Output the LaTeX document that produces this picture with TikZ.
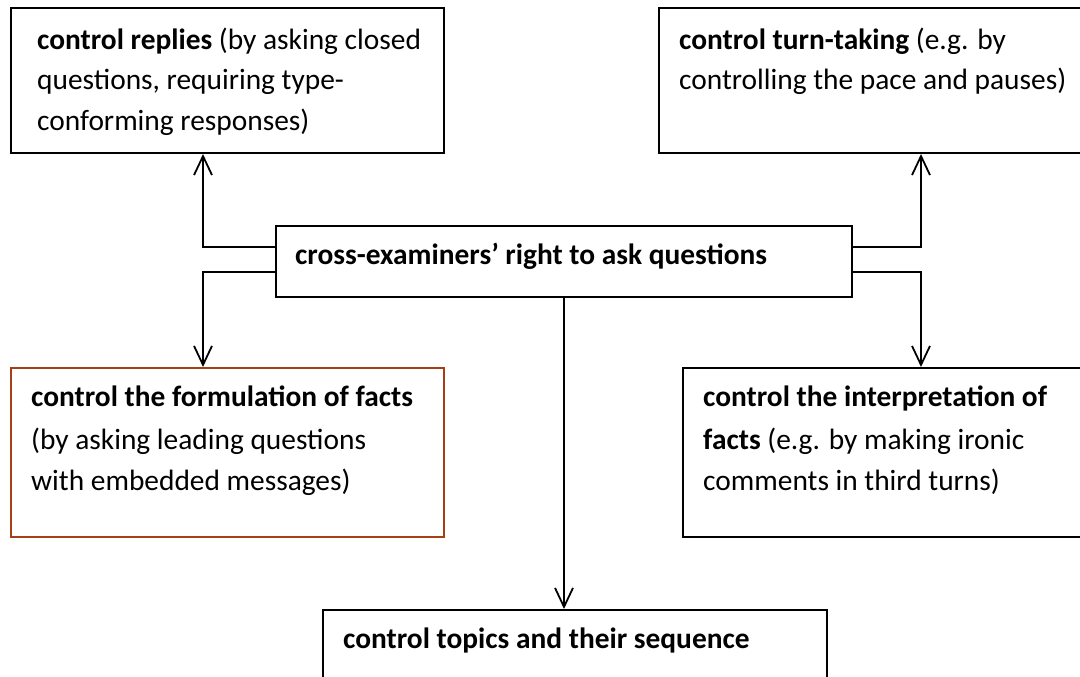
\documentclass[tikz,border=0pt]{standalone}
\usepackage{fontspec}
\setmainfont{Carlito}
\usetikzlibrary{arrows.meta,calc}
\definecolor{brownline}{RGB}{163,65,20}
\begin{document}
\begin{tikzpicture}[x=1pt,y=-1pt,
  box/.style={draw=black,line width=2pt,anchor=north west,inner sep=0pt},
  txt/.style={anchor=base west,inner sep=0pt,font=\fontsize{29.4}{34}\selectfont},
  arr/.style={draw=black,line width=2pt,-{Straight Barb[length=19pt,width=18pt,line width=1.8pt]}}]
\useasboundingbox (0,0) rectangle (1080,677);
\fill[white] (0,0) rectangle (1080,677);
% boxes
\node[box,minimum width=433pt,minimum height=145pt] (A) at (10,7) {};
\node[box,minimum width=440pt,minimum height=145pt] (B) at (658,7) {};
\node[box,minimum width=576pt,minimum height=71pt] (M) at (275,225) {};
\node[box,draw=brownline,minimum width=433pt,minimum height=169pt] (C) at (10,367) {};
\node[box,minimum width=420pt,minimum height=169pt] (D) at (682,367) {};
\node[box,minimum width=504pt,minimum height=100pt] (E) at (322,609) {};
% texts
\node[txt] (a1) at (37,50) {\textbf{control replies} (by asking closed};
\node[txt] (a2) at (37,90) {questions, requiring type-};
\node[txt] (a3) at (37,131) {conforming responses)};
\node[txt] (b1) at (679,50) {\textbf{control turn-taking} (e.g. by};
\node[txt] (b2) at (679,90) {controlling the pace and pauses)};
\node[txt] (m1) at (295,264) {\textbf{cross-examiners’ right to ask questions}};
\node[txt] (c1) at (31,406) {\textbf{control the formulation of facts}};
\node[txt] (c2) at (31,449) {(by asking leading questions};
\node[txt] (c3) at (31,490) {with embedded messages)};
\node[txt] (d1) at (703,406) {\textbf{control the interpretation of}};
\node[txt] (d2) at (703,449) {\textbf{facts} (e.g. by making ironic};
\node[txt] (d3) at (703,490) {comments in third turns)};
\node[txt] (e1) at (343,648) {\textbf{control topics and their sequence}};
% connector helpers
\coordinate (yu) at (0,247);
\coordinate (yd) at (0,272);
\coordinate (xl) at (203,0);
\coordinate (xr) at (921,0);
% connectors
\draw[arr] (M.west |- yu) -| (xl |- A.south);
\draw[arr] (M.west |- yd) -| (xl |- C.north);
\draw[arr] (M.east |- yu) -| (xr |- B.south);
\draw[arr] (M.east |- yd) -| (xr |- D.north);
\draw[arr] (M.south) -- (M.south |- E.north);
\end{tikzpicture}
\end{document}
